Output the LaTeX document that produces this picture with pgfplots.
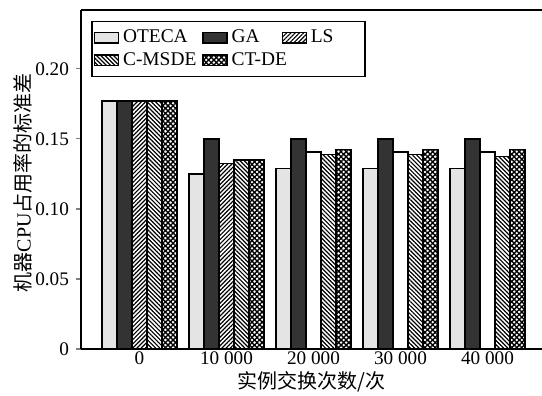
\documentclass[border=0pt]{standalone}
\usepackage{pgfplots}
\pgfplotsset{compat=1.18}
\usetikzlibrary{patterns,patterns.meta}
\usepackage{fontspec}
\setmainfont{Liberation Serif}
\newfontfamily\cjk{Noto Sans CJK SC}
\definecolor{lgray}{RGB}{228,228,228}
\definecolor{dgray}{RGB}{51,51,51}
\begin{document}
\begin{tikzpicture}
\useasboundingbox (-40.5pt,-23.5pt) rectangle (230.5pt,174.5pt);
\begin{axis}[
  at={(0pt,0pt)}, anchor=south west,
  scale only axis, width=230.5pt, height=169.5pt,
  xmin=-0.672, xmax=4.626, ymin=0, ymax=0.242,
  axis x line*=box, axis y line*=left,
  axis line style={line width=0.75pt},
  ybar=0pt,
  xtick={0,1,2,3,4},
  xticklabels={0,10\ 000,20\ 000,30\ 000,40\ 000},
  xtick style={draw=none},
  ytick={0,0.05,0.10,0.15,0.20},
  yticklabels={0,0.05,0.10,0.15,0.20},
  ytick pos=left, tick align=outside, major tick length=2.5pt,
  ytick style={line width=0.6pt},
  tick label style={font=\fontsize{9.6}{11}\selectfont},
  xticklabel style={yshift=4.5pt},
  every axis y label/.style={at={(rel axis cs:0,0.49)}, xshift=-29pt, rotate=90, anchor=center, font=\fontsize{10}{12}\selectfont},
  every axis x label/.style={at={(rel axis cs:0.5,0)}, yshift=-16.5pt, anchor=center, font=\fontsize{10}{12}\selectfont},
  ylabel={{\cjk 机器}CPU{\cjk 占用率的标准差}},
  xlabel={{\cjk 实例交换次数/次}},
  legend columns=3,
  legend cell align=left,
  legend style={at={(0.022,0.968)}, anchor=north west, draw=black, line width=0.75pt,
    font=\fontsize{9.7}{11}\selectfont, inner xsep=1pt, inner ysep=2pt,
    /tikz/every even column/.append style={column sep=1pt},
    row sep=-0.5pt},
  legend image code/.code={\draw[#1, line width=0.6pt] (0pt,-2.7pt) rectangle (12pt,2.7pt);},
]
\addplot[bar width=0.1724, bar shift=-0.345, fill=lgray, draw=black, line width=0.75pt]
  coordinates {(0,0.177) (1,0.125) (2,0.129) (3,0.129) (4,0.129)};
\addplot[bar width=0.1724, bar shift=-0.1724, fill=dgray, draw=black, line width=0.75pt]
  coordinates {(0,0.177) (1,0.150) (2,0.150) (3,0.150) (4,0.150)};
\addplot[bar width=0.1724, bar shift=0, draw=black, line width=0.75pt,
  pattern={Lines[angle=45,distance=1.5pt,line width=0.6pt]}]
  coordinates {(0,0.177) (1,0.1325)};
\addplot[bar width=0.1724, bar shift=0.1724, draw=black, line width=0.75pt,
  pattern={Lines[angle=-45,distance=1.5pt,line width=0.6pt]}]
  coordinates {(0,0.177) (1,0.135) (2,0.139) (3,0.139) (4,0.1375)};
\addplot[bar width=0.1724, bar shift=0.345, draw=black, line width=0.75pt,
  pattern={Lines[angle=45,distance=1.8pt,line width=0.7pt]},
  postaction={pattern={Lines[angle=-45,distance=1.8pt,line width=0.7pt]}}]
  coordinates {(0,0.177) (1,0.135) (2,0.1425) (3,0.1425) (4,0.1425)};
\addplot[forget plot, bar width=0.1724, bar shift=0, fill=white, draw=black, line width=0.75pt]
  coordinates {(2,0.1405) (3,0.1405) (4,0.1405)};
\legend{OTECA\hspace{4pt}, \makebox[22pt][l]{GA}, \makebox[24pt][l]{LS}, C-MSDE, \makebox[22pt][l]{CT-DE}}
\end{axis}
\end{tikzpicture}
\end{document}
